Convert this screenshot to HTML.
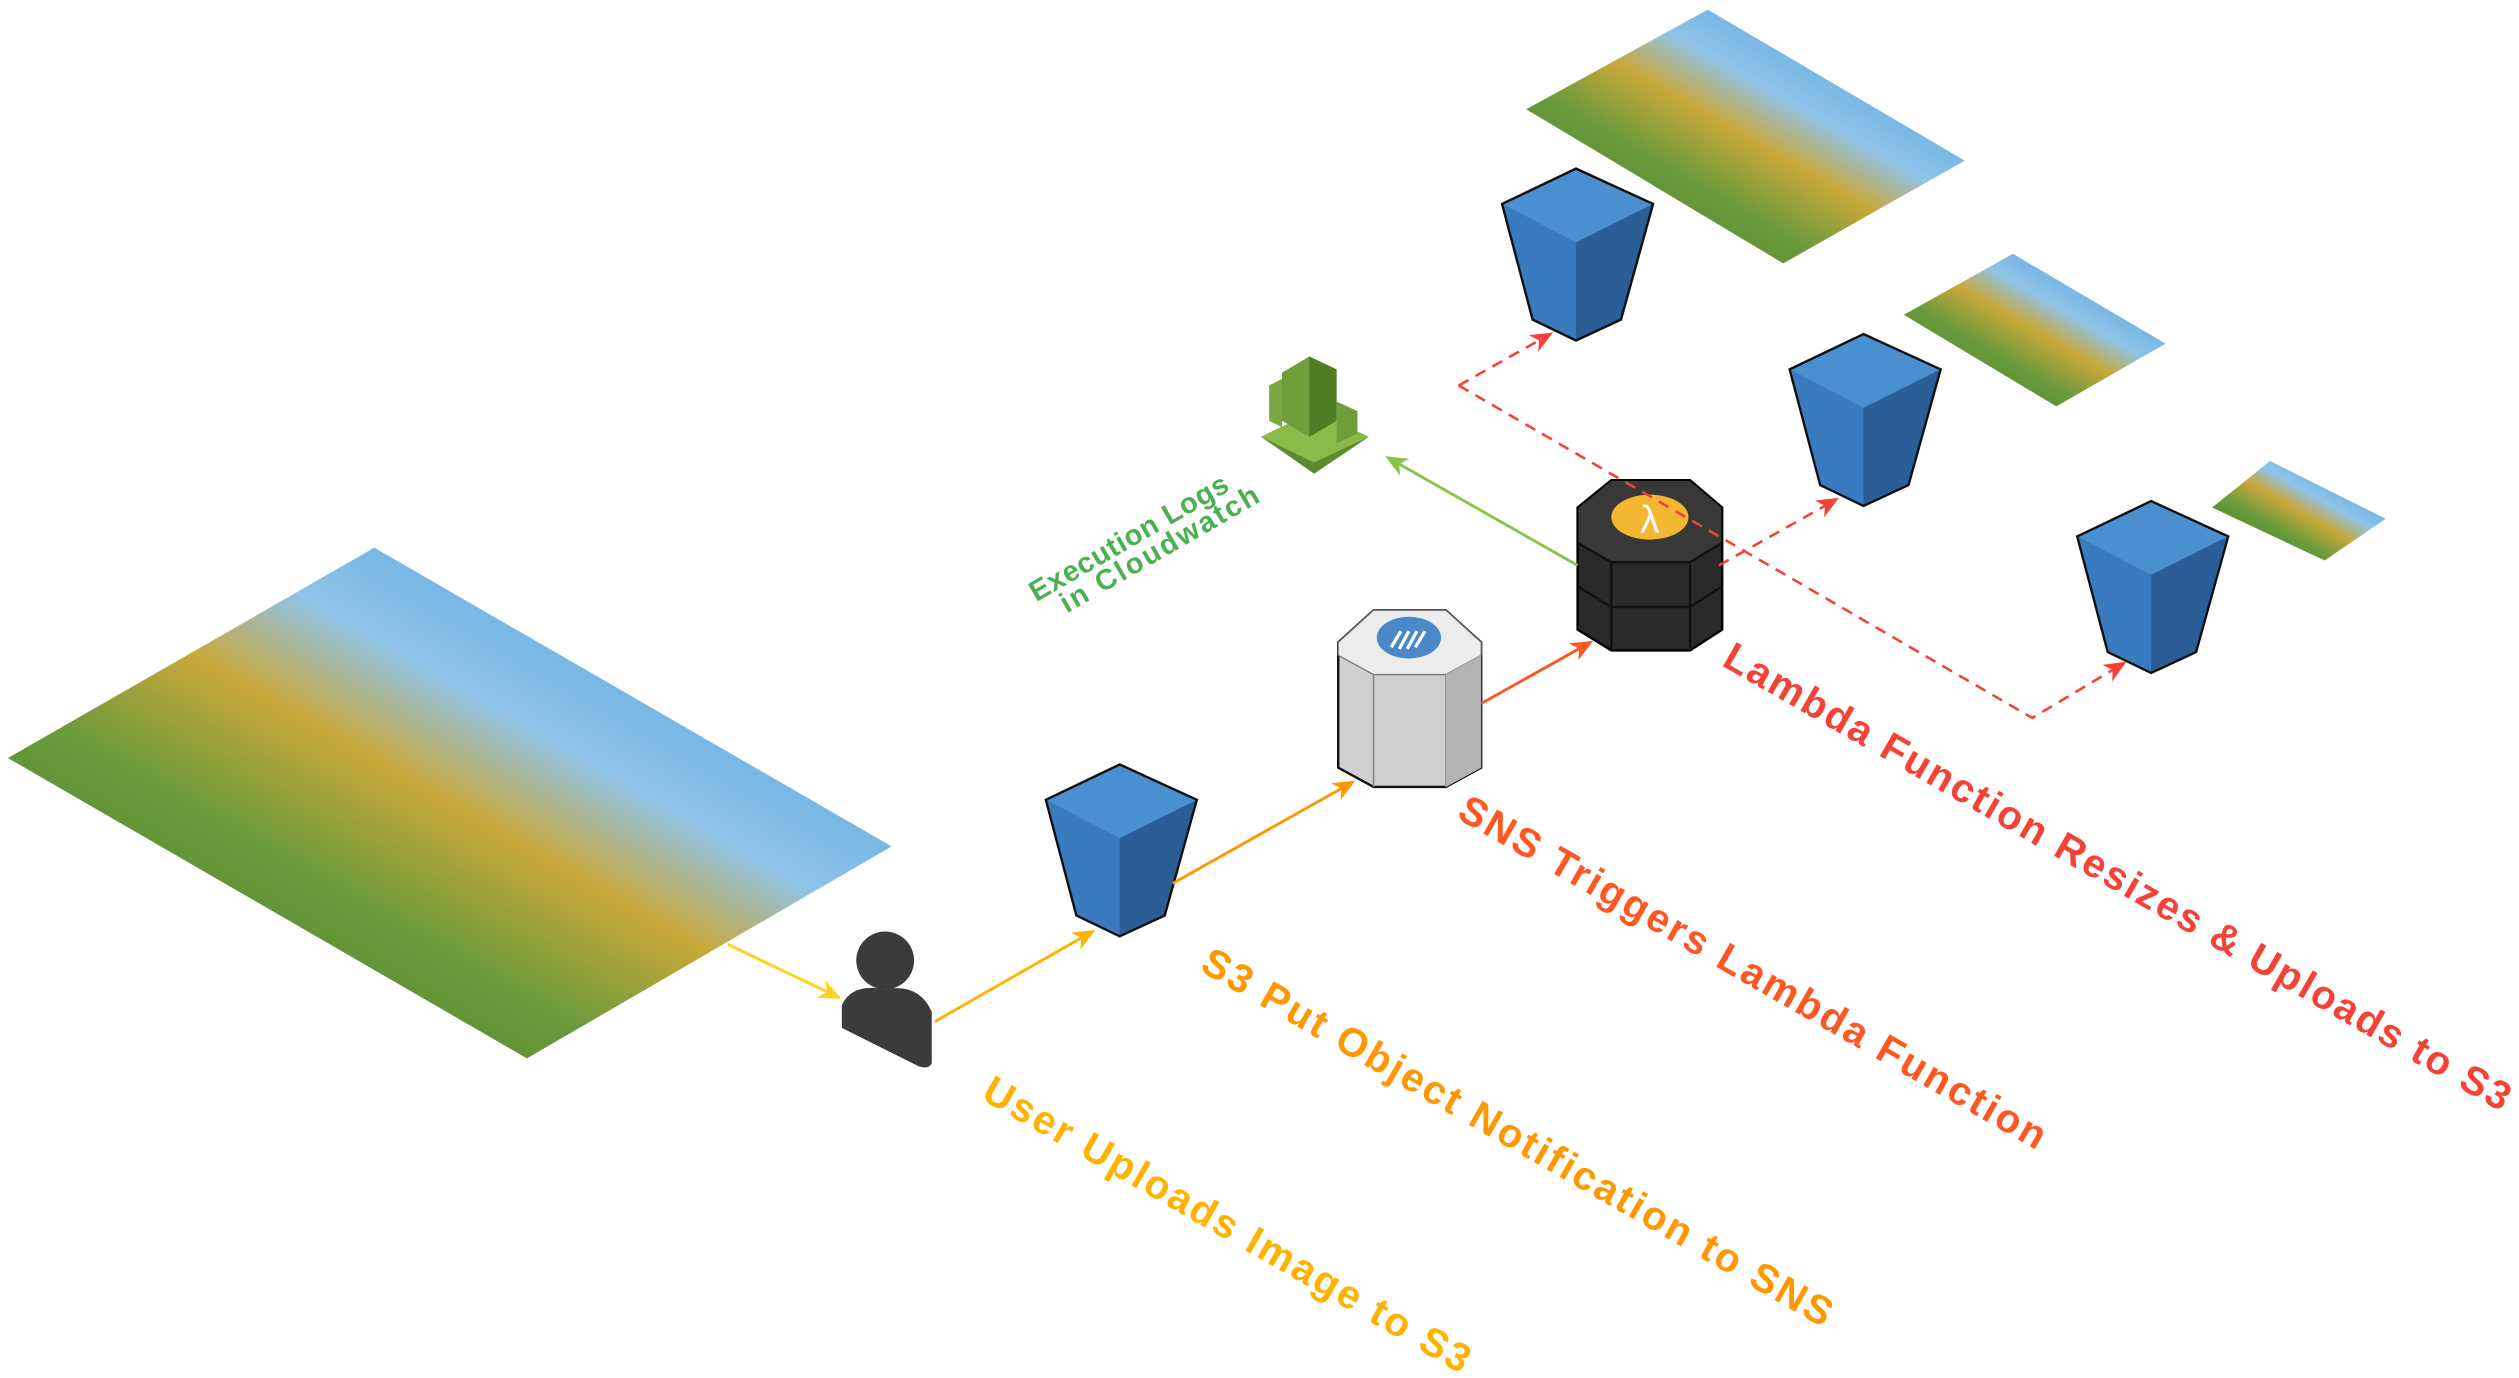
<!DOCTYPE html>
<html><head><meta charset="utf-8"><style>
html,body{margin:0;padding:0;background:#fff;width:2519px;height:1378px;overflow:hidden}
svg{display:block}
text{font-family:"Liberation Sans","DejaVu Sans",sans-serif;font-weight:bold}
</style></head><body>
<svg width="2519" height="1378" viewBox="0 0 1568 858" preserveAspectRatio="none" xmlns="http://www.w3.org/2000/svg">
<defs>
<linearGradient id="img" x1="0" y1="1" x2="1" y2="0">
<stop offset="0" stop-color="#3f7a2a"/><stop offset="0.35" stop-color="#6a9a3a"/><stop offset="0.5" stop-color="#c9a83a"/><stop offset="0.62" stop-color="#8fc3e8"/><stop offset="1" stop-color="#2a8fe0"/>
</linearGradient>
<marker id="ao" markerWidth="14" markerHeight="12" refX="12" refY="6" orient="auto" markerUnits="userSpaceOnUse"><path d="M0,0 L14,6 L0,12 L4,6z" fill="#ffb300"/></marker>
<marker id="ay" markerWidth="14" markerHeight="12" refX="12" refY="6" orient="auto" markerUnits="userSpaceOnUse"><path d="M0,0 L14,6 L0,12 L4,6z" fill="#ffd21f"/></marker>
<marker id="ao2" markerWidth="14" markerHeight="12" refX="12" refY="6" orient="auto" markerUnits="userSpaceOnUse"><path d="M0,0 L14,6 L0,12 L4,6z" fill="#ff9800"/></marker>
<marker id="ar" markerWidth="14" markerHeight="12" refX="12" refY="6" orient="auto" markerUnits="userSpaceOnUse"><path d="M0,0 L14,6 L0,12 L4,6z" fill="#ff5722"/></marker>
<marker id="ar2" markerWidth="14" markerHeight="12" refX="12" refY="6" orient="auto" markerUnits="userSpaceOnUse"><path d="M0,0 L14,6 L0,12 L4,6z" fill="#f44336"/></marker>
<marker id="ag" markerWidth="14" markerHeight="12" refX="12" refY="6" orient="auto" markerUnits="userSpaceOnUse"><path d="M0,0 L14,6 L0,12 L4,6z" fill="#8bc34a"/></marker>
<g id="bucket">
<path d="M0,22 L46,0 L94,22 L74,94 L46,107 L19,94Z" fill="#2e6aa8"/>
<path d="M0,22 L46,0 L94,22 L46,46Z" fill="#4a8fd0"/>
<path d="M0,22 L46,46 L46,107 L19,94Z" fill="#3a7bc0"/>
<path d="M46,46 L94,22 L74,94 L46,107Z" fill="#2b5e96"/>
<path d="M0,22 L46,0 L94,22 L74,94 L46,107 L19,94Z" fill="none" stroke="#111" stroke-width="1.5"/>
</g>
</defs>

<polygon points="5,472 233,341 555,527 328,659" fill="url(#img)"/>
<polygon points="950,68 1063,6 1223,100 1110,164" fill="url(#img)"/>
<polygon points="1185,196 1253,158 1348,214 1280,253" fill="url(#img)"/>
<polygon points="1377,316 1413,287 1485,323 1447,349" fill="url(#img)"/>

<use href="#bucket" x="651" y="476"/>
<use href="#bucket" x="935" y="105"/>
<use href="#bucket" x="1114" y="208"/>
<use href="#bucket" x="1293" y="312"/>

<circle cx="551" cy="598" r="18" fill="#3b3b3b"/>
<path d="M524,626 Q530,612 551,616 Q572,612 580,630 L580,662 Q578,666 572,664 L524,640 Z" fill="#3b3b3b"/>

<polygon points="785,272 818,256 852,272 818,295" fill="#5d8a2e"/>
<polygon points="785,272 818,256 852,272 818,288" fill="#8bb94a"/>
<polygon points="798,232 815,222 832,230 832,262 815,272 798,262" fill="#6f9e38"/>
<polygon points="815,222 832,230 832,262 815,272" fill="#4f7d26"/>
<polygon points="790,240 798,236 798,266 790,262" fill="#79a83e"/>
<polygon points="832,250 845,256 845,270 832,276" fill="#6f9e38"/>

<polygon points="833,400 855,380 900,380 922,400 922,478 900,490 855,490 833,478" fill="#cfcfd1" stroke="#111" stroke-width="1.5"/>
<polygon points="833,400 855,380 900,380 922,400 922,408 900,420 855,420 833,408" fill="#ececec" stroke="#777" stroke-width="0.8"/>
<line x1="855" y1="420" x2="855" y2="490" stroke="#888"/><line x1="900" y1="420" x2="900" y2="490" stroke="#888"/>
<polygon points="900,420 922,408 922,478 900,490" fill="#b3b3b5"/>
<ellipse cx="877" cy="397" rx="20" ry="13" fill="#4a88c8"/>
<path d="M866,403 l6,-10 M871,404 l6,-11 M876,404 l6,-11 M881,403 l6,-10" stroke="#fff" stroke-width="2"/>

<polygon points="982,316 1003,299 1052,299 1072,316 1072,392 1052,405 1003,405 982,392" fill="#2a2a2a" stroke="#000" stroke-width="1.5"/>
<polygon points="982,316 1003,299 1052,299 1072,316 1072,338 1052,350 1003,350 982,338" fill="#383838" stroke="#000" stroke-width="1"/>
<path d="M982,338 L1003,350 L1052,350 L1072,338 M982,365 L1003,378 L1052,378 L1072,365 M1003,350 V405 M1052,350 V405" stroke="#111" stroke-width="1.5" fill="none"/>
<ellipse cx="1027" cy="322" rx="24" ry="14" fill="#f4b731"/>
<text x="1027" y="332" font-size="24" fill="#fff" text-anchor="middle" style="font-weight:normal">λ</text>

<line x1="453" y1="588" x2="522" y2="621" stroke="#ffd21f" stroke-width="1.8" marker-end="url(#ay)"/>
<line x1="582" y1="636" x2="680" y2="580" stroke="#ffb300" stroke-width="1.8" marker-end="url(#ao)"/>
<line x1="730" y1="550" x2="842" y2="487" stroke="#ff9800" stroke-width="1.8" marker-end="url(#ao2)"/>
<line x1="922" y1="438" x2="990" y2="400" stroke="#ff5722" stroke-width="1.8" marker-end="url(#ar)"/>
<line x1="982" y1="352" x2="864" y2="285" stroke="#8bc34a" stroke-width="1.8" marker-end="url(#ag)"/>
<g stroke="#f44336" stroke-width="1.6" stroke-dasharray="7,5" fill="none">
<polyline points="908,240 1265,447 1322,413" marker-end="url(#ar2)"/>
<line x1="908" y1="240" x2="965" y2="208" marker-end="url(#ar2)"/>
<line x1="1070" y1="352" x2="1143" y2="311" marker-end="url(#ar2)"/>
</g>

<text transform="translate(610,684) rotate(29.8)" font-size="25" fill="#ffb300" textLength="345" lengthAdjust="spacing">User Uploads Image to S3</text>
<text transform="translate(746,604) rotate(29.8)" font-size="25" fill="#ff9800" textLength="448" lengthAdjust="spacing">S3 Put Object Notification to SNS</text>
<text transform="translate(906,509) rotate(29.8)" font-size="25" fill="#ff5722" textLength="417" lengthAdjust="spacing">SNS Triggers Lambda Function</text>
<text transform="translate(1071,414) rotate(29.8)" font-size="25" fill="#f44336" textLength="560" lengthAdjust="spacing">Lambda Function Resizes &amp; Uploads to S3</text>
<text transform="translate(645,375) rotate(-30)" font-size="18" fill="#4caf50" textLength="140" lengthAdjust="spacing">Execution Logs</text>
<text transform="translate(664,382) rotate(-30)" font-size="18" fill="#4caf50" textLength="140" lengthAdjust="spacing">in Cloudwatch</text>
</svg>
</body></html>
